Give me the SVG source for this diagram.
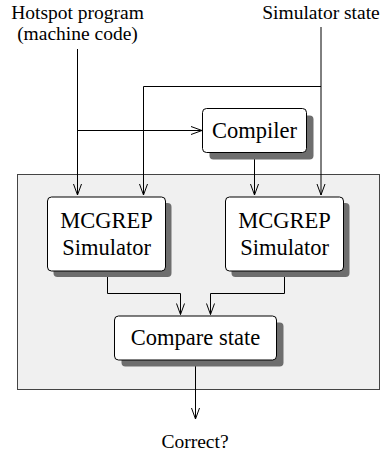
<svg xmlns="http://www.w3.org/2000/svg" width="381" height="454" viewBox="0 0 381 454">
  <style>
    .label { font-family: "Liberation Serif", "Times New Roman", serif; font-size: 19.5px; fill: #000; text-anchor: middle; }
    .boxtext { font-family: "Liberation Serif", "Times New Roman", serif; font-size: 22.5px; fill: #000; text-anchor: middle; }
    .box { fill: #fff; stroke: #000; stroke-width: 1; }
    .shadow { fill: #6e6e6e; stroke: none; }
    .wire { fill: none; stroke: #000; stroke-width: 1; }
  </style>
  <defs>
    <marker id="arrow" markerUnits="userSpaceOnUse" markerWidth="14" markerHeight="12" viewBox="-12 -6 14 12" refX="0" refY="0" orient="auto">
      <path d="M-11,-4 L0,0 L-11,4" fill="none" stroke="#000" stroke-width="1"/>
    </marker>
  </defs>

  <rect fill="#ffffff" x="0" y="0" width="381" height="454"/>

  <!-- enclosing test harness -->
  <rect id="harness" x="17.5" y="174.5" width="362" height="215" fill="#f0f0f0" stroke="#444" stroke-width="1"/>

  <!-- external labels -->
  <g id="hotspot-program">
    <text class="label" x="77.5" y="19">Hotspot program</text>
    <text class="label" x="77.5" y="39.5">(machine code)</text>
  </g>
  <g id="simulator-state">
    <text class="label" x="321" y="19">Simulator state</text>
  </g>
  <g id="correct">
    <text class="label" x="195" y="448">Correct?</text>
  </g>

  <!-- connectors -->
  <g id="connectors">
    <path class="wire" d="M77.5,49 V195" marker-end="url(#arrow)"/>
    <path class="wire" d="M77.5,130.5 H202" marker-end="url(#arrow)"/>
    <path class="wire" d="M321,27 V195" marker-end="url(#arrow)"/>
    <path class="wire" d="M321,86.5 H143.5 V195" marker-end="url(#arrow)"/>
    <path class="wire" d="M254.5,152 V195" marker-end="url(#arrow)"/>
    <path class="wire" d="M107.5,271 V293.5 H180.5 V314.5" marker-end="url(#arrow)"/>
    <path class="wire" d="M284.5,271 V293.5 H210.5 V314.5" marker-end="url(#arrow)"/>
    <path class="wire" d="M195.5,360 V419" marker-end="url(#arrow)"/>
  </g>

  <!-- nodes -->
  <g id="compiler">
    <rect class="shadow" x="209.5" y="115.5" width="104" height="44" rx="4"/>
    <rect class="box" x="202.5" y="108.5" width="104" height="44" rx="4"/>
    <text class="boxtext" x="254.5" y="137.5">Compiler</text>
  </g>
  <g id="simulator-a">
    <rect class="shadow" x="53.5" y="203" width="118" height="74" rx="4"/>
    <rect class="box" x="47.5" y="197" width="118" height="74" rx="4"/>
    <text class="boxtext" x="106.5" y="227.5">MCGREP</text>
    <text class="boxtext" x="106.5" y="255">Simulator</text>
  </g>
  <g id="simulator-b">
    <rect class="shadow" x="231.5" y="203" width="118" height="74" rx="4"/>
    <rect class="box" x="225.5" y="197" width="118" height="74" rx="4"/>
    <text class="boxtext" x="284.5" y="227.5">MCGREP</text>
    <text class="boxtext" x="284.5" y="255">Simulator</text>
  </g>
  <g id="compare-state">
    <rect class="shadow" x="121.5" y="322.5" width="162" height="44" rx="4"/>
    <rect class="box" x="114.5" y="316" width="162" height="44" rx="4"/>
    <text class="boxtext" x="195.5" y="345">Compare state</text>
  </g>
</svg>
